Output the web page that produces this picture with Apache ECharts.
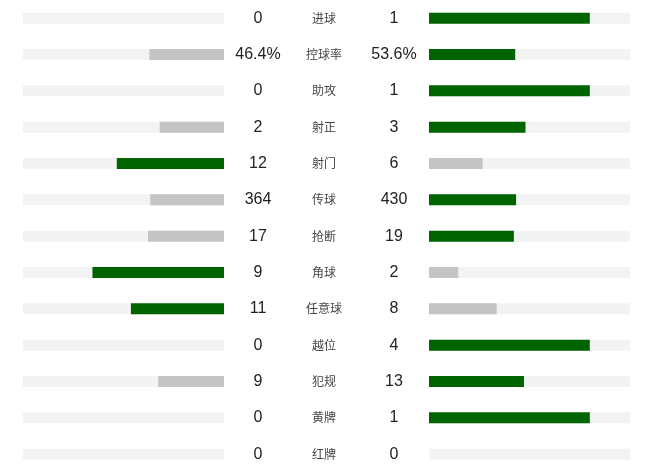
<!DOCTYPE html>
<html><head><meta charset="utf-8">
<script src="https://cdn.jsdelivr.net/npm/echarts@6/dist/echarts.min.js"></script>
<style>html,body{margin:0;padding:0;background:#fff}#c{width:660px;height:474px}</style>
</head><body><div id="c"></div>
<script>
const categories = ['进球','控球率','助攻','射正','射门','传球','抢断','角球','任意球','越位','犯规','黄牌','红牌'];
const homeValues = [0, 46.4, 0, 2, 12, 364, 17, 9, 11, 0, 9, 0, 0];
const awayValues = [1, 53.6, 1, 3, 6, 430, 19, 2, 8, 4, 13, 1, 0];
const units = ['', '%', '', '', '', '', '', '', '', '', '', '', ''];

const GREEN = '#006400', GRAY = '#c4c4c4', TRACK = '#f3f3f3';
const idx = categories.map((_, i) => i);
function share(a, b) { const s = a + b; return s > 0 ? a / s * 0.8 : 0; }
const homeData = idx.map(i => ({ value: share(homeValues[i], awayValues[i]),
  itemStyle: { color: homeValues[i] > awayValues[i] ? GREEN : GRAY } }));
const awayData = idx.map(i => ({ value: share(awayValues[i], homeValues[i]),
  itemStyle: { color: awayValues[i] > homeValues[i] ? GREEN : GRAY } }));
const trackData = idx.map(() => 1);
const fmt = (arr) => (v, i) => arr[i] + units[i];

const chart = echarts.init(document.getElementById('c'), null, { renderer: 'canvas' });
const gridTop = -1.7, gridH = 474;
const numFont = { fontSize: 16, color: '#222', fontFamily: 'Liberation Sans, Arial, sans-serif' };
chart.setOption({
  animation: false,
  grid: [
    { left: 23, width: 201, top: gridTop, height: gridH },
    { left: 429, width: 201, top: gridTop, height: gridH }
  ],
  xAxis: [
    { gridIndex: 0, type: 'value', min: 0, max: 1, inverse: true, show: false },
    { gridIndex: 1, type: 'value', min: 0, max: 1, show: false }
  ],
  yAxis: [
    { gridIndex: 0, type: 'category', data: categories, inverse: true, position: 'right',
      axisLine: { show: false }, axisTick: { show: false }, splitLine: { show: false },
      axisLabel: Object.assign({ margin: 34, align: 'center', formatter: fmt(homeValues) }, numFont) },
    { gridIndex: 0, type: 'category', data: categories, inverse: true, position: 'right',
      axisLine: { show: false }, axisTick: { show: false }, splitLine: { show: false },
      axisLabel: { margin: 100, align: 'center', fontSize: 12, color: '#444',
        fontFamily: 'Noto Sans CJK SC, sans-serif' } },
    { gridIndex: 1, type: 'category', data: categories, inverse: true, position: 'left',
      axisLine: { show: false }, axisTick: { show: false }, splitLine: { show: false },
      axisLabel: Object.assign({ margin: 35, align: 'center', formatter: fmt(awayValues) }, numFont) }
  ],
  series: [
    { type: 'bar', xAxisIndex: 0, yAxisIndex: 0, data: trackData, barWidth: 11,
      itemStyle: { color: TRACK }, silent: true },
    { type: 'bar', xAxisIndex: 0, yAxisIndex: 0, data: homeData, barWidth: 11, barGap: '-100%' },
    { type: 'bar', xAxisIndex: 1, yAxisIndex: 2, data: trackData, barWidth: 11,
      itemStyle: { color: TRACK }, silent: true },
    { type: 'bar', xAxisIndex: 1, yAxisIndex: 2, data: awayData, barWidth: 11, barGap: '-100%' }
  ]
});
</script></body></html>
